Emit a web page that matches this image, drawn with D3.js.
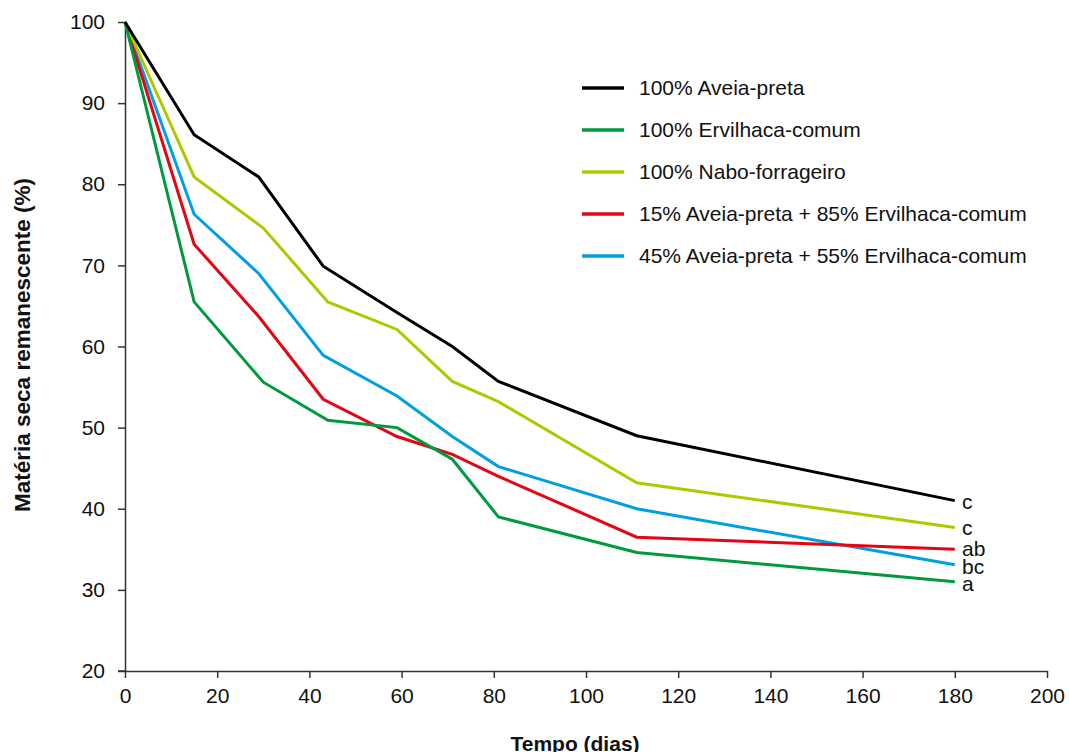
<!DOCTYPE html>
<html>
<head>
<meta charset="utf-8">
<script src="https://cdn.jsdelivr.net/npm/d3@7"></script>
<style>
body { margin: 0; background: #fff; }
svg text { font-family: "Liberation Sans", Arial, sans-serif; fill: #111; }
.axis path, .axis line { stroke: #333; stroke-width: 1.5; }
</style>
</head>
<body>
<div id="main"></div>
<script>
// data
var seriesNames = ["100% Aveia-preta", "100% Ervilhaca-comum", "100% Nabo-forrageiro",
                   "15% Aveia-preta + 85% Ervilhaca-comum", "45% Aveia-preta + 55% Ervilhaca-comum"];
var colors = ["#000000", "#009a3e", "#b1c800", "#e30613", "#009fe3"];
var daysA = [0, 15, 29, 43, 59, 71, 81, 111, 180];
var daysB = [0, 15, 30, 44, 59, 71, 81, 111, 180];
var aveia = [100, 86.1, 80.9, 69.9, 64.2, 60.0, 55.7, 49.0, 41.0];
var ervilhaca = [100, 65.5, 55.6, 50.9, 50.0, 46.1, 39.0, 34.6, 31.0];
var nabo = [100, 80.9, 74.6, 65.5, 62.1, 55.7, 53.2, 43.2, 37.7];
var mix15 = [100, 72.6, 63.7, 53.5, 48.9, 46.7, 44.0, 36.5, 35.0];
var mix45 = [100, 76.3, 69.0, 58.9, 53.9, 48.9, 45.2, 40.0, 33.1];
var endLetters = ["c", "a", "c", "ab", "bc"];
var xTicks = [0, 20, 40, 60, 80, 100, 120, 140, 160, 180, 200];
var yTicks = [20, 30, 40, 50, 60, 70, 80, 90, 100];

var series = [
  {days: daysA, vals: aveia},
  {days: daysB, vals: ervilhaca},
  {days: daysB, vals: nabo},
  {days: daysA, vals: mix15},
  {days: daysA, vals: mix45}
];

var width = 1069, height = 752;
var svg = d3.select('#main').append('svg')
            .attr('width', width)
            .attr('height', height);

var x = d3.scaleLinear().domain([0, 200]).range([125, 1047]);
var y = d3.scaleLinear().domain([20, 100]).range([671, 22]);

// axes
svg.append('g')
   .attr('class', 'axis')
   .attr('transform', 'translate(0,671)')
   .call(d3.axisBottom(x).tickValues(xTicks).tickSize(7).tickSizeOuter(0).tickPadding(10))
   .selectAll('text')
   .style('font-size', '21px');

svg.append('g')
   .attr('class', 'axis')
   .attr('transform', 'translate(125,0)')
   .call(d3.axisLeft(y).tickValues(yTicks).tickSize(7).tickSizeOuter(0).tickPadding(13))
   .selectAll('text')
   .style('font-size', '21px');

// extend x-axis line to meet the 20 tick
svg.append('line')
   .attr('x1', 118).attr('x2', 125)
   .attr('y1', 671).attr('y2', 671)
   .attr('stroke', '#333').attr('stroke-width', 1.5);

// titles
svg.append('text')
   .attr('x', 575)
   .attr('y', 751)
   .attr('text-anchor', 'middle')
   .style('font-size', '21px')
   .style('font-weight', 'bold')
   .text('Tempo (dias)');

svg.append('text')
   .attr('transform', 'translate(30,345) rotate(-90)')
   .attr('text-anchor', 'middle')
   .style('font-size', '22.5px')
   .style('font-weight', 'bold')
   .text('Matéria seca remanescente (%)');

// lines
var line = d3.line()
             .x(function(d) { return x(d[0]); })
             .y(function(d) { return y(d[1]); });

for (var i = series.length - 1; i >= 0; i--) {
  var pts = series[i].days.map(function(d, j) { return [d, series[i].vals[j]]; });
  svg.append('path')
     .attr('d', line(pts))
     .attr('fill', 'none')
     .attr('stroke', colors[i])
     .attr('stroke-width', 3)
     .attr('stroke-linejoin', 'miter');
}

// letters at the end
var letterY = [502, 584, 528, 549, 567];
for (var i = 0; i < series.length; i++) {
  svg.append('text')
     .attr('x', 962)
     .attr('y', letterY[i])
     .attr('dy', '0.35em')
     .style('font-size', '21px')
     .text(endLetters[i]);
}

// legend
var legend = svg.append('g');
for (var i = 0; i < seriesNames.length; i++) {
  var ly = 88 + i * 42;
  legend.append('line')
        .attr('x1', 582).attr('x2', 624)
        .attr('y1', ly).attr('y2', ly)
        .attr('stroke', colors[i])
        .attr('stroke-width', 3.5);
  legend.append('text')
        .attr('x', 639)
        .attr('y', ly)
        .attr('dy', '0.35em')
        .style('font-size', '21px')
        .text(seriesNames[i]);
}
</script>
</body>
</html>
